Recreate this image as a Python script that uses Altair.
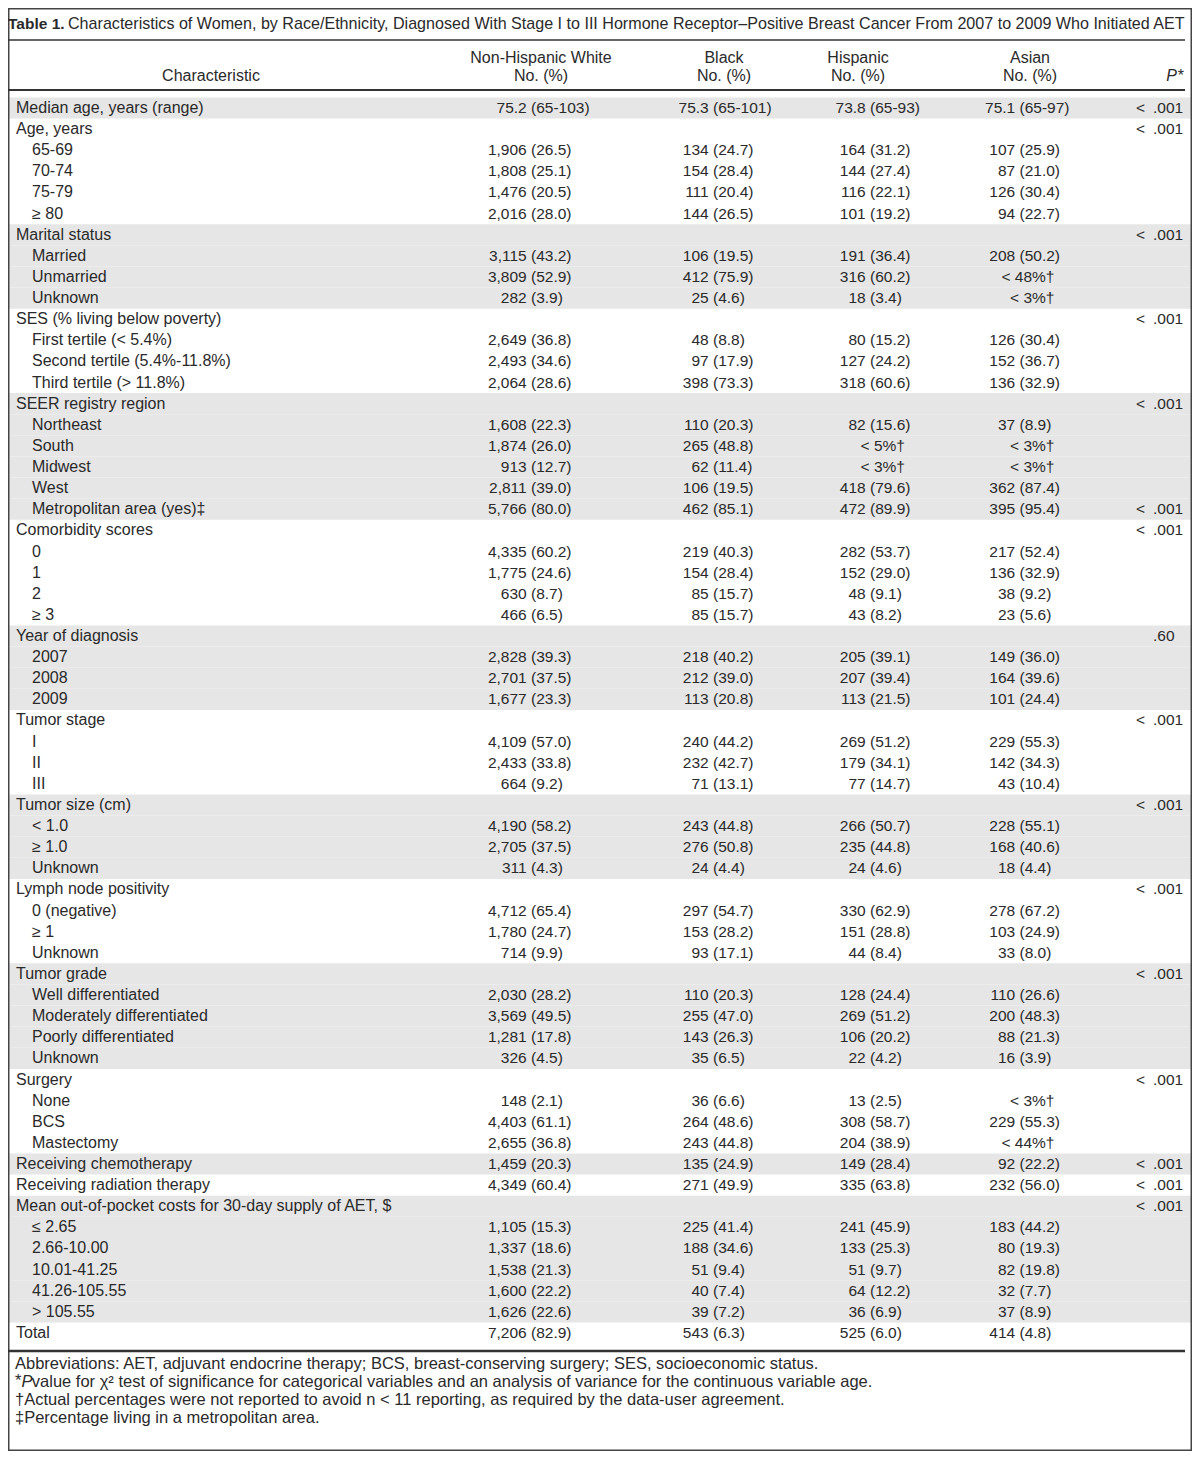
import altair as alt
import pandas as pd

# ---------------- data ----------------
title_bold = "Table 1."
title_rest = ("Characteristics of Women, by Race/Ethnicity, Diagnosed With Stage I to III "
              "Hormone Receptor\u2013Positive Breast Cancer From 2007 to 2009 Who Initiated AET")
col_names = ["Non-Hispanic White", "Black", "Hispanic", "Asian"]
col_sub = "No. (%)"
char_header = "Characteristic"

labels = [
    "Median age, years (range)", "Age, years", "65-69", "70-74", "75-79", "\u2265 80",
    "Marital status", "Married", "Unmarried", "Unknown",
    "SES (% living below poverty)", "First tertile (< 5.4%)", "Second tertile (5.4%-11.8%)", "Third tertile (> 11.8%)",
    "SEER registry region", "Northeast", "South", "Midwest", "West", "Metropolitan area (yes)\u2021",
    "Comorbidity scores", "0", "1", "2", "\u2265 3",
    "Year of diagnosis", "2007", "2008", "2009",
    "Tumor stage", "I", "II", "III",
    "Tumor size (cm)", "< 1.0", "\u2265 1.0", "Unknown",
    "Lymph node positivity", "0 (negative)", "\u2265 1", "Unknown",
    "Tumor grade", "Well differentiated", "Moderately differentiated", "Poorly differentiated", "Unknown",
    "Surgery", "None", "BCS", "Mastectomy",
    "Receiving chemotherapy", "Receiving radiation therapy",
    "Mean out-of-pocket costs for 30-day supply of AET, $", "\u2264 2.65", "2.66-10.00", "10.01-41.25",
    "41.26-105.55", "> 105.55",
    "Total",
]
levels = [0, 0, 1, 1, 1, 1,
          0, 1, 1, 1,
          0, 1, 1, 1,
          0, 1, 1, 1, 1, 1,
          0, 1, 1, 1, 1,
          0, 1, 1, 1,
          0, 1, 1, 1,
          0, 1, 1, 1,
          0, 1, 1, 1,
          0, 1, 1, 1, 1,
          0, 1, 1, 1,
          0, 0,
          0, 1, 1, 1, 1, 1,
          0]

nhw = ["75.2 (65-103)", "", "1,906 (26.5)", "1,808 (25.1)", "1,476 (20.5)", "2,016 (28.0)",
       "", "3,115 (43.2)", "3,809 (52.9)", "282 (3.9)",
       "", "2,649 (36.8)", "2,493 (34.6)", "2,064 (28.6)",
       "", "1,608 (22.3)", "1,874 (26.0)", "913 (12.7)", "2,811 (39.0)", "5,766 (80.0)",
       "", "4,335 (60.2)", "1,775 (24.6)", "630 (8.7)", "466 (6.5)",
       "", "2,828 (39.3)", "2,701 (37.5)", "1,677 (23.3)",
       "", "4,109 (57.0)", "2,433 (33.8)", "664 (9.2)",
       "", "4,190 (58.2)", "2,705 (37.5)", "311 (4.3)",
       "", "4,712 (65.4)", "1,780 (24.7)", "714 (9.9)",
       "", "2,030 (28.2)", "3,569 (49.5)", "1,281 (17.8)", "326 (4.5)",
       "", "148 (2.1)", "4,403 (61.1)", "2,655 (36.8)",
       "1,459 (20.3)", "4,349 (60.4)",
       "", "1,105 (15.3)", "1,337 (18.6)", "1,538 (21.3)", "1,600 (22.2)", "1,626 (22.6)",
       "7,206 (82.9)"]
black = ["75.3 (65-101)", "", "134 (24.7)", "154 (28.4)", "111 (20.4)", "144 (26.5)",
         "", "106 (19.5)", "412 (75.9)", "25 (4.6)",
         "", "48 (8.8)", "97 (17.9)", "398 (73.3)",
         "", "110 (20.3)", "265 (48.8)", "62 (11.4)", "106 (19.5)", "462 (85.1)",
         "", "219 (40.3)", "154 (28.4)", "85 (15.7)", "85 (15.7)",
         "", "218 (40.2)", "212 (39.0)", "113 (20.8)",
         "", "240 (44.2)", "232 (42.7)", "71 (13.1)",
         "", "243 (44.8)", "276 (50.8)", "24 (4.4)",
         "", "297 (54.7)", "153 (28.2)", "93 (17.1)",
         "", "110 (20.3)", "255 (47.0)", "143 (26.3)", "35 (6.5)",
         "", "36 (6.6)", "264 (48.6)", "243 (44.8)",
         "135 (24.9)", "271 (49.9)",
         "", "225 (41.4)", "188 (34.6)", "51 (9.4)", "40 (7.4)", "39 (7.2)",
         "543 (6.3)"]
hispanic = ["73.8 (65-93)", "", "164 (31.2)", "144 (27.4)", "116 (22.1)", "101 (19.2)",
            "", "191 (36.4)", "316 (60.2)", "18 (3.4)",
            "", "80 (15.2)", "127 (24.2)", "318 (60.6)",
            "", "82 (15.6)", "< 5%\u2020", "< 3%\u2020", "418 (79.6)", "472 (89.9)",
            "", "282 (53.7)", "152 (29.0)", "48 (9.1)", "43 (8.2)",
            "", "205 (39.1)", "207 (39.4)", "113 (21.5)",
            "", "269 (51.2)", "179 (34.1)", "77 (14.7)",
            "", "266 (50.7)", "235 (44.8)", "24 (4.6)",
            "", "330 (62.9)", "151 (28.8)", "44 (8.4)",
            "", "128 (24.4)", "269 (51.2)", "106 (20.2)", "22 (4.2)",
            "", "13 (2.5)", "308 (58.7)", "204 (38.9)",
            "149 (28.4)", "335 (63.8)",
            "", "241 (45.9)", "133 (25.3)", "51 (9.7)", "64 (12.2)", "36 (6.9)",
            "525 (6.0)"]
asian = ["75.1 (65-97)", "", "107 (25.9)", "87 (21.0)", "126 (30.4)", "94 (22.7)",
         "", "208 (50.2)", "< 48%\u2020", "< 3%\u2020",
         "", "126 (30.4)", "152 (36.7)", "136 (32.9)",
         "", "37 (8.9)", "< 3%\u2020", "< 3%\u2020", "362 (87.4)", "395 (95.4)",
         "", "217 (52.4)", "136 (32.9)", "38 (9.2)", "23 (5.6)",
         "", "149 (36.0)", "164 (39.6)", "101 (24.4)",
         "", "229 (55.3)", "142 (34.3)", "43 (10.4)",
         "", "228 (55.1)", "168 (40.6)", "18 (4.4)",
         "", "278 (67.2)", "103 (24.9)", "33 (8.0)",
         "", "110 (26.6)", "200 (48.3)", "88 (21.3)", "16 (3.9)",
         "", "< 3%\u2020", "229 (55.3)", "< 44%\u2020",
         "92 (22.2)", "232 (56.0)",
         "", "183 (44.2)", "80 (19.3)", "82 (19.8)", "32 (7.7)", "37 (8.9)",
         "414 (4.8)"]
pvals = ["< .001", "< .001", "", "", "", "",
         "< .001", "", "", "",
         "< .001", "", "", "",
         "< .001", "", "", "", "", "< .001",
         "< .001", "", "", "", "",
         ".60", "", "", "",
         "< .001", "", "", "",
         "< .001", "", "", "",
         "< .001", "", "", "",
         "< .001", "", "", "", "",
         "< .001", "", "", "",
         "< .001", "< .001",
         "< .001", "", "", "", "", "",
         ""]

foot1 = "Abbreviations: AET, adjuvant endocrine therapy; BCS, breast-conserving surgery; SES, socioeconomic status."
foot2_star = "*"
foot2_p = "P"
foot2_rest = (" value for \u03c7\u00b2 test of significance for categorical variables and an analysis of "
              "variance for the continuous variable age.")
foot3 = "\u2020Actual percentages were not reported to avoid n < 11 reporting, as required by the data-user agreement."
foot4 = "\u2021Percentage living in a metropolitan area."

# ---------------- layout / style ----------------
FONT = "Liberation Sans"
TXT = "#2a2a2a"
FS = 15.5          # numbers
FS_LAB = 16        # row labels / headers
FS_TITLE = 16.1
FS_FOOT = 16.5
W, H = 1184, 1443
ROW0, ROWH = 100, 21.12
PAREN_X = [523, 705, 862, 1011.5]     # x of "(" per data column
HEAD_X = [533, 716, 850, 1022]

n = len(labels)
yscale = alt.Scale(domain=[0, n - 1], range=[ROW0, ROW0 + ROWH * (n - 1)], nice=False, zero=False)

rows = pd.DataFrame({"row": list(range(n)), "label": labels, "level": levels})
rows["group"] = (rows["level"] == 0).cumsum() - 1
rows["y0"] = rows["row"] - 0.5
rows["y1"] = rows["row"] + 0.5
shaded = rows[rows["group"] % 2 == 0]

one = pd.DataFrame({"k": [0]})


def txt(s, x, y, align="left", size=FS_LAB, weight="normal", style="normal"):
    return alt.Chart(pd.DataFrame({"t": [s]})).mark_text(
        align=align, baseline="middle", font=FONT, fontSize=size, color=TXT,
        fontWeight=weight, fontStyle=style,
    ).encode(x=alt.value(x), y=alt.value(y), text="t:N")


def rule(x1, x2, y, w):
    return alt.Chart(one).mark_rule(color="#333333", strokeWidth=w).encode(
        x=alt.value(x1), x2=alt.value(x2), y=alt.value(y))


layers = []

# shaded bands
layers.append(alt.Chart(shaded).mark_rect(color="#e6e6e6").encode(
    x=alt.value(0), x2=alt.value(W),
    y=alt.Y("y0:Q", scale=yscale, axis=None), y2="y1:Q"))

# border
layers.append(alt.Chart(one).mark_rect(fill=None, stroke="#444444", strokeWidth=1.5).encode(
    x=alt.value(0.75), x2=alt.value(W - 0.75), y=alt.value(0.75), y2=alt.value(H - 0.75)))

# title
layers.append(txt(title_bold, 0, 16, size=15.5, weight="bold"))
layers.append(txt(title_rest, 60, 16, size=FS_TITLE))
layers.append(rule(0, 1177, 32, 1.5))

# header
layers.append(txt(char_header, 203, 68, align="center"))
for name, hx in zip(col_names, HEAD_X):
    layers.append(txt(name, hx, 50, align="center"))
    layers.append(txt(col_sub, hx, 68, align="center"))
layers.append(txt("*", 1176, 68, align="right"))
layers.append(txt("P", 1169, 68, align="right", style="italic"))
layers.append(rule(0, 1177, 82, 2))

# row labels
for lvl, lx in [(0, 8), (1, 24)]:
    layers.append(alt.Chart(rows[rows["level"] == lvl]).mark_text(
        align="left", baseline="middle", font=FONT, fontSize=FS_LAB, color=TXT
    ).encode(x=alt.value(lx), y=alt.Y("row:Q", scale=yscale, axis=None), text="label:N"))

# data cells, aligned on the opening parenthesis
for vals, px in zip([nhw, black, hispanic, asian], PAREN_X):
    df = pd.DataFrame({"row": list(range(n)), "v": vals})
    df = df[df["v"] != ""]
    has = df["v"].str.contains("(", regex=False)
    d1 = df[has].copy()
    parts = d1["v"].str.split(" (", n=1, regex=False)
    d1["left"] = parts.str[0]
    d1["right"] = "(" + parts.str[1]
    d2 = df[~has]
    mk = dict(baseline="middle", font=FONT, fontSize=FS, color=TXT)
    layers.append(alt.Chart(d1).mark_text(align="right", **mk).encode(
        x=alt.value(px - 4.3), y=alt.Y("row:Q", scale=yscale, axis=None), text="left:N"))
    layers.append(alt.Chart(d1).mark_text(align="left", **mk).encode(
        x=alt.value(px), y=alt.Y("row:Q", scale=yscale, axis=None), text="right:N"))
    if len(d2):
        layers.append(alt.Chart(d2).mark_text(align="right", **mk).encode(
            x=alt.value(px + 35), y=alt.Y("row:Q", scale=yscale, axis=None), text="v:N"))

# P values, aligned on the decimal point
pdf = pd.DataFrame({"row": list(range(n)), "v": pvals})
pdf = pdf[pdf["v"] != ""].copy()
pdf["left"] = pdf["v"].apply(lambda s: s.split(" ")[0] if " " in s else "")
pdf["right"] = pdf["v"].apply(lambda s: s.split(" ")[-1])
mk = dict(baseline="middle", font=FONT, fontSize=FS, color=TXT)
layers.append(alt.Chart(pdf).mark_text(align="right", **mk).encode(
    x=alt.value(1137), y=alt.Y("row:Q", scale=yscale, axis=None), text="left:N"))
layers.append(alt.Chart(pdf).mark_text(align="left", **mk).encode(
    x=alt.value(1145), y=alt.Y("row:Q", scale=yscale, axis=None), text="right:N"))

# bottom rule
layers.append(rule(0, 1177, 1343, 2.5))

# footnotes
layers.append(txt(foot1, 7, 1356, size=FS_FOOT))
layers.append(txt(foot2_star, 7, 1373, size=FS_FOOT))
layers.append(txt(foot2_p, 13.5, 1374, size=FS_FOOT, style="italic"))
layers.append(txt(foot2_rest, 23.8, 1374, size=FS_FOOT))
layers.append(txt(foot3, 7, 1392, size=FS_FOOT))
layers.append(txt(foot4, 7, 1410, size=FS_FOOT))

chart = alt.layer(*layers).properties(
    width=W, height=H, padding=0, autosize=alt.AutoSizeParams(type="none")
).configure_view(stroke=None)

chart.save("out.html", embed_options={"renderer": "svg", "actions": False})
